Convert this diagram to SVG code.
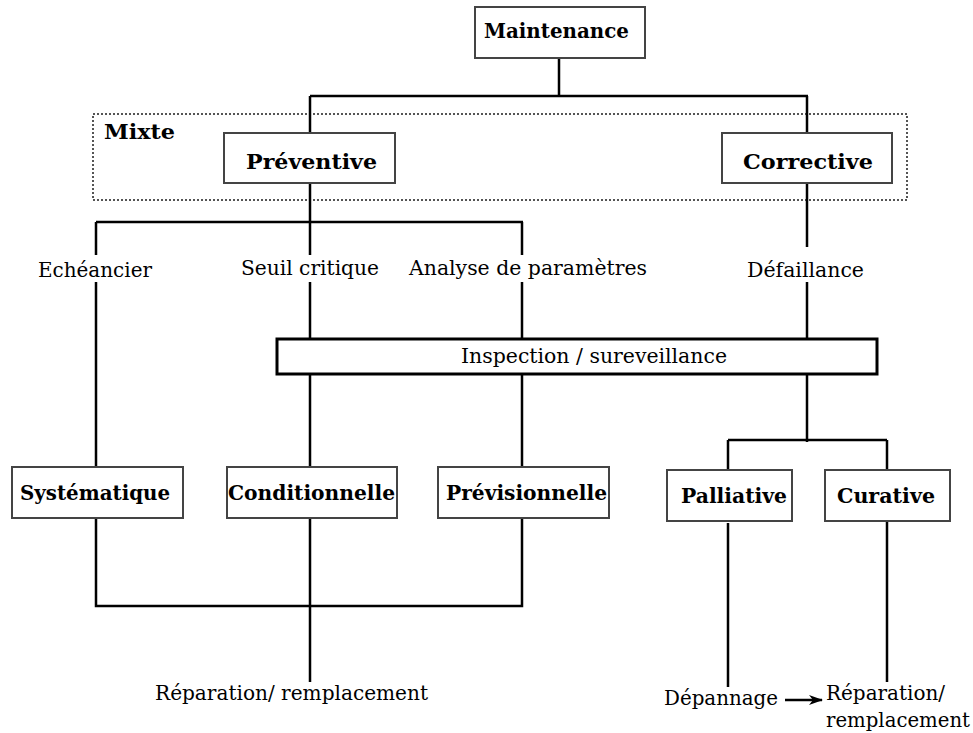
<svg xmlns="http://www.w3.org/2000/svg" width="973" height="733" viewBox="0 0 973 733">
<style>
.box{fill:#fff;stroke:#444;stroke-width:2}
.t{font-family:'DejaVu Serif','Liberation Serif',serif;font-weight:bold;font-size:20px;fill:#000}
.l{font-family:'DejaVu Serif','Liberation Serif',serif;font-size:20px;fill:#000}
.c{fill:none;stroke:#000;stroke-width:2.5}
</style>
<defs>
<marker id="ah" markerWidth="14" markerHeight="10" refX="13" refY="5" orient="auto" markerUnits="userSpaceOnUse">
<path d="M0,0 L14,5 L0,10 L4,5 Z" fill="#000"/>
</marker>
</defs>
<rect x="93" y="114" width="814" height="86" fill="none" stroke="#555" stroke-width="2" stroke-dasharray="2 2"/>
<text class="t" x="104" y="139" textLength="71" lengthAdjust="spacingAndGlyphs">Mixte</text>
<g id="connectors">
<path class="c" d="M559,58 V96 M310,96 H808 M310,96 V133 M807,96 V133" stroke-width="2"/>
<path class="c" d="M310,183 V255 M96,222 H523 M96,222 V255 M522,222 V255"/>
<path class="c" d="M96,282 V467 M310,282 V339 M522,282 V339 M807,183 V247 M807,282 V339"/>
<path class="c" d="M310,374 V467 M522,374 V467 M807,374 V442 M728,440 H887 M728,440 V470 M887,440 V470"/>
<path class="c" d="M96,518 V606 H522 V518 M310,518 V682"/>
<path class="c" d="M728,523 V687 M887,518 V682"/>
<path class="c" d="M785,700 H822" marker-end="url(#ah)"/>
</g>
<g id="maintenance"><rect class="box" x="475" y="7" width="170" height="51"/><text class="t" x="484" y="38" textLength="145" lengthAdjust="spacingAndGlyphs">Maintenance</text></g>
<g id="preventive"><rect class="box" x="224" y="133" width="171" height="50"/><text class="t" x="246" y="169" textLength="131" lengthAdjust="spacingAndGlyphs">Préventive</text></g>
<g id="corrective"><rect class="box" x="722" y="133" width="170" height="50"/><text class="t" x="743" y="169" textLength="130" lengthAdjust="spacingAndGlyphs">Corrective</text></g>
<g id="echeancier"><text class="l" x="38" y="277" textLength="114" lengthAdjust="spacingAndGlyphs">Echéancier</text></g>
<g id="seuil"><text class="l" x="241" y="275" textLength="138" lengthAdjust="spacingAndGlyphs">Seuil critique</text></g>
<g id="analyse"><text class="l" x="409" y="275" textLength="238" lengthAdjust="spacingAndGlyphs">Analyse de paramètres</text></g>
<g id="defaillance"><text class="l" x="747" y="277" textLength="117" lengthAdjust="spacingAndGlyphs">Défaillance</text></g>
<g id="inspection"><rect x="277" y="339" width="600" height="35" fill="#fff" stroke="#000" stroke-width="3"/><text class="l" x="461" y="363" textLength="266" lengthAdjust="spacingAndGlyphs">Inspection / sureveillance</text></g>
<g id="systematique"><rect class="box" x="12" y="467" width="171" height="51"/><text class="t" x="20" y="500" textLength="150" lengthAdjust="spacingAndGlyphs">Systématique</text></g>
<g id="conditionnelle"><rect class="box" x="227" y="467" width="170" height="51"/><text class="t" x="228" y="500" textLength="167" lengthAdjust="spacingAndGlyphs">Conditionnelle</text></g>
<g id="previsionnelle"><rect class="box" x="438" y="467" width="171" height="51"/><text class="t" x="446" y="500" textLength="161" lengthAdjust="spacingAndGlyphs">Prévisionnelle</text></g>
<g id="palliative"><rect class="box" x="667" y="470" width="125" height="51"/><text class="t" x="681" y="503" textLength="106" lengthAdjust="spacingAndGlyphs">Palliative</text></g>
<g id="curative"><rect class="box" x="825" y="470" width="125" height="51"/><text class="t" x="837" y="503" textLength="98" lengthAdjust="spacingAndGlyphs">Curative</text></g>
<g id="reparation1"><text class="l" x="155" y="700" textLength="273" lengthAdjust="spacingAndGlyphs">Réparation/ remplacement</text></g>
<g id="depannage"><text class="l" x="664" y="705" textLength="114" lengthAdjust="spacingAndGlyphs">Dépannage</text></g>
<g id="reparation2"><text class="l" x="826" y="700" textLength="119" lengthAdjust="spacingAndGlyphs">Réparation/</text><text class="l" x="826" y="727" textLength="144" lengthAdjust="spacingAndGlyphs">remplacement</text></g>
</svg>
